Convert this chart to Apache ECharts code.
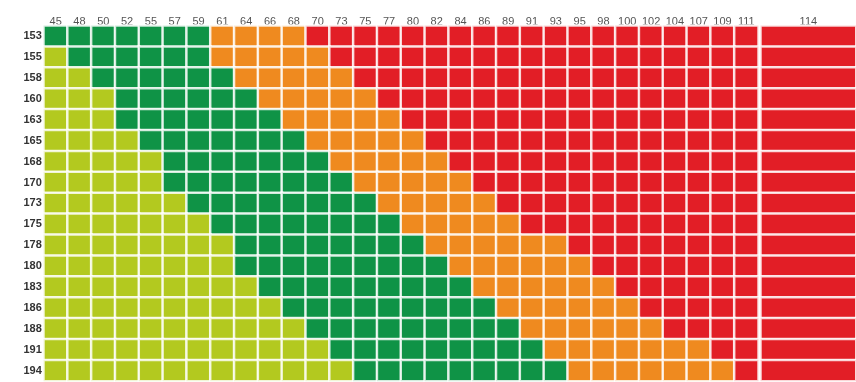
<!DOCTYPE html>
<html>
<head>
<meta charset="utf-8">
<script src="https://cdn.jsdelivr.net/npm/echarts@6/dist/echarts.min.js"></script>
<style>
html,body{margin:0;padding:0;background:#fff;}
#chart{width:856px;height:382px;}
</style>
</head>
<body>
<div id="chart"></div>
<script>
// Weight columns (kg) in the regular part of the chart
const weightLabels = ['45','48','50','52','55','57','59','61','64','66','68','70','73','75','77','80','82','84','86','89','91','93','95','98','100','102','104','107','109','111'];
// The last, wide weight column
const wideWeightLabels = ['114'];
// Height rows (cm)
const heightLabels = ['153','155','158','160','163','165','168','170','173','175','178','180','183','186','188','191','194'];
// BMI class per cell, one string per height row, one digit per weight column (31 columns incl. 114)
// 0 = underweight (light green), 1 = normal (dark green), 2 = overweight (orange), 3 = obese (red)
const classRows = [
  '1111111222233333333333333333333',
  '0111111222223333333333333333333',
  '0011111122222333333333333333333',
  '0001111112222233333333333333333',
  '0001111111222223333333333333333',
  '0000111111122222333333333333333',
  '0000011111112222233333333333333',
  '0000011111111222223333333333333',
  '0000001111111122222333333333333',
  '0000000111111112222233333333333',
  '0000000011111111222222333333333',
  '0000000011111111122222233333333',
  '0000000001111111112222223333333',
  '0000000000111111111222222333333',
  '0000000000011111111122222233333',
  '0000000000001111111112222222333',
  '0000000000000111111111222222233'
];
const classColors = ['#b3c91f', '#0f9346', '#ef8a1f', '#e21e26'];

const mainData = [];
const wideData = [];
classRows.forEach(function (row, r) {
  for (let c = 0; c < weightLabels.length; c++) {
    mainData.push([c, r, Number(row[c])]);
  }
  wideData.push([0, r, Number(row[weightLabels.length])]);
});

const chart = echarts.init(document.getElementById('chart'), null, {renderer: 'canvas'});
const xLabel = {color: '#555', fontSize: 11, fontFamily: 'Liberation Sans, Arial, sans-serif', margin: -1.5};
const yLabel = {color: '#333', fontSize: 11, fontWeight: 'bold', fontFamily: 'Liberation Sans, Arial, sans-serif', margin: 2};
chart.setOption({
  animation: false,
  backgroundColor: '#fff',
  grid: [
    {left: 43.75, top: 25.75, width: 714.5, height: 355.3},
    {left: 760.75, top: 25.75, width: 96, height: 355.3}
  ],
  xAxis: [
    {type: 'category', gridIndex: 0, position: 'top', data: weightLabels,
     axisLine: {show: false}, axisTick: {show: false}, splitLine: {show: false},
     axisLabel: Object.assign({interval: 0}, xLabel)},
    {type: 'category', gridIndex: 1, position: 'top', data: wideWeightLabels,
     axisLine: {show: false}, axisTick: {show: false}, splitLine: {show: false},
     axisLabel: Object.assign({interval: 0}, xLabel)}
  ],
  yAxis: [
    {type: 'category', gridIndex: 0, inverse: true, data: heightLabels,
     axisLine: {show: false}, axisTick: {show: false}, splitLine: {show: false},
     axisLabel: Object.assign({interval: 0}, yLabel)},
    {type: 'category', gridIndex: 1, inverse: true, data: heightLabels,
     axisLine: {show: false}, axisTick: {show: false}, splitLine: {show: false},
     axisLabel: {show: false}}
  ],
  visualMap: {
    type: 'piecewise', show: false, dimension: 2, seriesIndex: [0, 1],
    pieces: classColors.map(function (col, i) { return {value: i, color: col}; })
  },
  series: [
    {type: 'heatmap', xAxisIndex: 0, yAxisIndex: 0, data: mainData,
     itemStyle: {borderColor: 'rgba(255,255,255,0.82)', borderWidth: 2.5},
     emphasis: {disabled: true}},
    {type: 'heatmap', xAxisIndex: 1, yAxisIndex: 1, data: wideData,
     itemStyle: {borderColor: 'rgba(255,255,255,0.82)', borderWidth: 2.5},
     emphasis: {disabled: true}}
  ]
});
</script>
</body>
</html>
